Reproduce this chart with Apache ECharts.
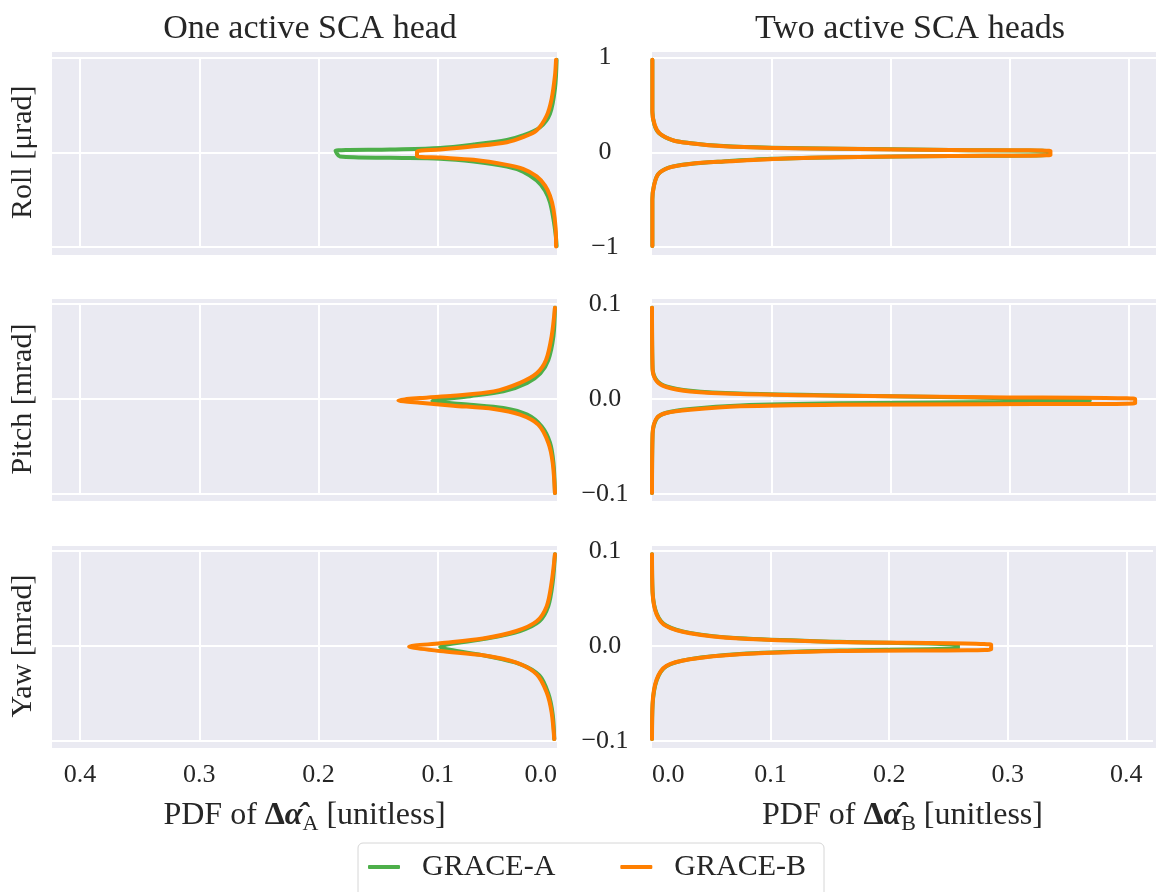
<!DOCTYPE html>
<html>
<head>
<meta charset="utf-8">
<script src="https://cdn.jsdelivr.net/npm/echarts@6/dist/echarts.min.js"></script>
<style>
html,body{margin:0;padding:0;background:#fff;}
#chart{width:1156px;height:892px;}
</style>
</head>
<body>
<div id="chart"></div>
<script>
// ---------------- DATA ----------------
const seriesNames = ['GRACE-A', 'GRACE-B'];
const columnTitles = ['One active SCA head', 'Two active SCA heads'];
const rowNames = ['Roll [μrad]', 'Pitch [mrad]', 'Yaw [mrad]'];
const xTickLabels = ['0.0', '0.1', '0.2', '0.3', '0.4'];
const yTickLabelsRoll = ['\u22121', '0', '1'];
const yTickLabelsSmall = ['\u22120.1', '0.0', '0.1'];

// each point: [PDF value, angle]
// Roll, one active head
const rollOneA = [[0.0003,0.975],[0.0017,0.673],[0.0059,0.406],[0.0142,0.264],[0.0285,0.177],[0.042,0.130],[0.070,0.082],[0.098,0.046],[0.14,0.029],[0.1857,0.015],[0.182,-0.045],[0.14,-0.059],[0.098,-0.068],[0.070,-0.098],[0.042,-0.151],[0.0285,-0.204],[0.017,-0.299],[0.010,-0.405],[0.0059,-0.528],[0.003,-0.704],[0.001,-0.881],[0.0003,-0.99]];
const rollOneB = [[0.0008,0.975],[0.0017,0.81],[0.0045,0.564],[0.0086,0.388],[0.0172,0.229],[0.0285,0.159],[0.042,0.106],[0.070,0.063],[0.098,0.028],[0.1174,0.007],[0.1174,-0.040],[0.098,-0.056],[0.070,-0.080],[0.042,-0.133],[0.0285,-0.175],[0.017,-0.254],[0.010,-0.352],[0.0059,-0.458],[0.003,-0.599],[0.0011,-0.81],[0.0008,-0.995]];
// Roll, two active heads
const rollTwoA = [[0.0003,0.975],[0.0003,0.44],[0.002,0.29],[0.006,0.20],[0.017,0.128],[0.031,0.098],[0.06,0.065],[0.10,0.047],[0.158,0.037],[0.25,0.024],[0.332,0.011],[0.332,-0.027],[0.25,-0.04],[0.158,-0.052],[0.10,-0.069],[0.06,-0.097],[0.031,-0.124],[0.014,-0.163],[0.005,-0.235],[0.0015,-0.36],[0.0003,-0.50],[0.0003,-0.99]];
const rollTwoB = [[0.0003,0.975],[0.0003,0.42],[0.0025,0.28],[0.0067,0.195],[0.018,0.124],[0.032,0.095],[0.06,0.063],[0.102,0.046],[0.158,0.036],[0.25,0.024],[0.334,0.012],[0.334,-0.028],[0.25,-0.04],[0.158,-0.053],[0.102,-0.07],[0.06,-0.098],[0.032,-0.123],[0.015,-0.16],[0.0053,-0.23],[0.0017,-0.35],[0.0003,-0.49],[0.0003,-0.99]];
// Pitch, one active head
const pitchOneA = [[0.0017,0.096],[0.003,0.066],[0.0073,0.041],[0.014,0.027],[0.025,0.017],[0.045,0.008],[0.073,0.003],[0.098,-0.0007],[0.1045,-0.002],[0.098,-0.0035],[0.073,-0.006],[0.045,-0.0095],[0.025,-0.0165],[0.0128,-0.029],[0.0059,-0.046],[0.003,-0.067],[0.0017,-0.099]];
const pitchOneB = [[0.0017,0.096],[0.0045,0.066],[0.0092,0.041],[0.017,0.027],[0.031,0.017],[0.053,0.008],[0.087,0.0035],[0.115,0.001],[0.133,-0.0015],[0.115,-0.004],[0.087,-0.007],[0.053,-0.0105],[0.031,-0.0165],[0.0157,-0.027],[0.0073,-0.046],[0.0036,-0.067],[0.0017,-0.099]];
// Pitch, two active heads
const pitchTwoA = [[0,0.096],[0.0005,0.032],[0.004,0.0195],[0.012,0.0133],[0.032,0.0088],[0.074,0.0058],[0.158,0.0038],[0.27,0.0015],[0.367,-0.0015],[0.27,-0.0035],[0.158,-0.0045],[0.074,-0.0068],[0.032,-0.0105],[0.012,-0.0145],[0.004,-0.0205],[0.0005,-0.037],[0,-0.099]];
const pitchTwoB = [[0,0.096],[0.0005,0.031],[0.004,0.0186],[0.012,0.0126],[0.032,0.008],[0.074,0.0053],[0.158,0.0035],[0.28,0.0018],[0.405,0.0],[0.405,-0.0045],[0.28,-0.0055],[0.158,-0.006],[0.074,-0.0077],[0.032,-0.0113],[0.012,-0.0147],[0.004,-0.02],[0.0005,-0.036],[0,-0.099]];
// Yaw, one active head
const yawOneA = [[0.0017,0.0965],[0.0036,0.067],[0.0073,0.042],[0.0148,0.026],[0.031,0.0158],[0.059,0.0078],[0.09,0.002],[0.098,-0.001],[0.09,-0.004],[0.059,-0.0105],[0.031,-0.019],[0.0148,-0.031],[0.0073,-0.05],[0.0036,-0.072],[0.0023,-0.098]];
const yawOneB = [[0.0017,0.0965],[0.0045,0.067],[0.0086,0.042],[0.017,0.026],[0.034,0.0158],[0.062,0.0078],[0.098,0.0028],[0.124,-0.0006],[0.098,-0.0053],[0.062,-0.0098],[0.034,-0.0175],[0.017,-0.0298],[0.0086,-0.049],[0.0045,-0.07],[0.0023,-0.098]];
// Yaw, two active heads
const yawTwoA = [[0,0.0965],[0.0005,0.057],[0.004,0.034],[0.012,0.0215],[0.032,0.0138],[0.074,0.0081],[0.158,0.0044],[0.258,0.001],[0.258,-0.002],[0.158,-0.0048],[0.074,-0.0083],[0.032,-0.0138],[0.012,-0.0215],[0.004,-0.036],[0.0005,-0.062],[0,-0.098]];
const yawTwoB = [[0,0.0965],[0.0005,0.056],[0.004,0.033],[0.012,0.021],[0.032,0.0134],[0.074,0.0078],[0.158,0.0042],[0.286,0.0013],[0.286,-0.0035],[0.158,-0.0053],[0.074,-0.0087],[0.032,-0.014],[0.012,-0.021],[0.004,-0.035],[0.0005,-0.06],[0,-0.098]];

// ---------------- LAYOUT / STYLE ----------------
const FONT = '"Liberation Serif", "DejaVu Serif", serif';
const TXT = '#262626';
const BG = '#EAEAF2';
const COLORS = ['#4daf4a', '#ff7f00'];

const colLeft = [52, 652];
const colWidth = [505, 504];
const xMax = [0.4235, 0.4225];
const rowTop = [57.5, 304, 551];       // pixel of top tick
const rowHeight = [189.5, 190, 190];   // top tick -> bottom tick
const bgTop = [52, 299, 546];
const bgHeight = [203, 202, 202];
const yRange = [1, 0.1, 0.1];
const yLabels = [yTickLabelsRoll, yTickLabelsSmall, yTickLabelsSmall];

const panelData = [
  [rollOneA, rollOneB], [rollTwoA, rollTwoB],
  [pitchOneA, pitchOneB], [pitchTwoA, pitchTwoB],
  [yawOneA, yawOneB], [yawTwoA, yawTwoB]
];

const grids = [], xAxes = [], yAxes = [], series = [], graphics = [];
for (let r = 0; r < 3; r++) {
  for (let c = 0; c < 2; c++) {
    const idx = r * 2 + c;
    grids.push({left: colLeft[c], width: colWidth[c], top: rowTop[r], height: rowHeight[r], containLabel: false});
    graphics.push({type: 'rect', z: -10, silent: true,
      shape: {x: colLeft[c], y: bgTop[r], width: colWidth[c], height: bgHeight[r]},
      style: {fill: BG}});
    const bottomRow = (r === 2);
    const xa = {
      type: 'value', gridIndex: idx, min: 0, max: xMax[c], interval: 0.1,
      inverse: c === 0, offset: bgTop[r] + bgHeight[r] - (rowTop[r] + rowHeight[r]),
      axisLine: {show: false}, axisTick: {show: false},
      splitLine: {show: true, showMinLine: false, showMaxLine: false, lineStyle: {color: '#ffffff', width: 2}},
      axisLabel: {
        show: bottomRow, margin: 14, fontFamily: FONT, fontSize: 26, color: TXT,
        alignMinLabel: c === 0 ? 'right' : 'left',
        formatter: function (v) {
          const k = Math.round(v / 0.1);
          return Math.abs(v - k * 0.1) < 1e-6 && k < xTickLabels.length ? xTickLabels[k] : '';
        }
      }
    };
    if (bottomRow) {
      const sub = c === 0 ? 'A' : 'B';
      xa.name = '{t|PDF of }{d|Δ}{a|α\u0302}{s|' + sub + '}{t| [unitless]}';
      xa.nameLocation = 'middle';
      xa.nameGap = 49;
      xa.nameTextStyle = {
        color: TXT, fontFamily: FONT, fontSize: 32,
        rich: {
          t: {fontFamily: FONT, fontSize: 32, color: TXT, lineHeight: 38},
          d: {fontFamily: FONT, fontSize: 32, color: TXT, fontWeight: 'bold', lineHeight: 38},
          a: {fontFamily: FONT, fontSize: 32, color: TXT, fontWeight: 'bold', fontStyle: 'italic', lineHeight: 38},
          s: {fontFamily: FONT, fontSize: 22, color: TXT, lineHeight: 26, verticalAlign: 'bottom'}
        }
      };
    }
    xAxes.push(xa);
    const labs = yLabels[r];
    const ya = {
      type: 'value', gridIndex: idx, min: -yRange[r], max: yRange[r], interval: yRange[r],
      axisLine: {show: false}, axisTick: {show: false},
      splitLine: {show: true, lineStyle: {color: '#ffffff', width: 2}},
      axisLabel: {
        show: c === 1, align: 'center', margin: 47, fontFamily: FONT, fontSize: 26, color: TXT,
        padding: [4, 0, 0, 0],
        formatter: function (v) {
          const k = Math.round(v / yRange[r]) + 1;
          return labs[k] !== undefined ? labs[k] : '';
        }
      }
    };
    if (c === 0) {
      ya.name = rowNames[r];
      ya.nameLocation = 'middle';
      ya.nameRotate = 90;
      ya.nameGap = 14;
      ya.nameTextStyle = {color: TXT, fontFamily: FONT, fontSize: 30};
    }
    yAxes.push(ya);
    for (let s = 0; s < 2; s++) {
      series.push({
        type: 'line', name: seriesNames[s], xAxisIndex: idx, yAxisIndex: idx,
        data: panelData[idx][s], showSymbol: false, symbol: 'none',
        smooth: 0.3, z: 2 + s,
        itemStyle: {color: COLORS[s]},
        lineStyle: {color: COLORS[s], width: 4, cap: 'round', join: 'round'}
      });
    }
  }
}

const chart = echarts.init(document.getElementById('chart'), null, {renderer: 'canvas'});
chart.setOption({
  animation: false,
  backgroundColor: '#ffffff',
  title: [
    {text: columnTitles[0], left: 305, top: 7, textAlign: 'center',
      textStyle: {fontFamily: FONT, fontSize: 34, fontWeight: 'normal', color: TXT}},
    {text: columnTitles[1], left: 905, top: 7, textAlign: 'center',
      textStyle: {fontFamily: FONT, fontSize: 34, fontWeight: 'normal', color: TXT}}
  ],
  legend: {
    data: seriesNames, left: 358, top: 843, orient: 'horizontal',
    backgroundColor: '#ffffff', borderColor: '#d6d6d6', borderWidth: 1, borderRadius: 5,
    padding: [9, 18, 20, 10], itemWidth: 32, itemHeight: 4, itemGap: 65, icon: 'roundRect',
    textStyle: {fontFamily: FONT, fontSize: 30, color: TXT, padding: [0, 0, 0, 17]}
  },
  grid: grids,
  xAxis: xAxes,
  yAxis: yAxes,
  graphic: graphics,
  series: series
});
</script>
</body>
</html>
